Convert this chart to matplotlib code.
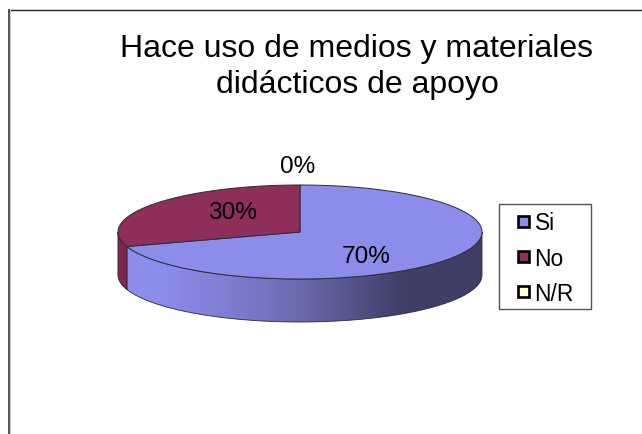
import numpy as np
import matplotlib
matplotlib.use("Agg")
import matplotlib.pyplot as plt
from matplotlib.colors import LinearSegmentedColormap
from matplotlib.patches import Polygon, Rectangle

plt.rcParams['font.family'] = ['Liberation Sans', 'DejaVu Sans']

title_lines = ["Hace uso de medios y materiales", "didácticos de apoyo"]
categories = ["Si", "No", "N/R"]
values = [70, 30, 0]
labels = ["70%", "30%", "0%"]
colors = ["#8C8CEB", "#8E2E5A", "#FFFFCC"]

# geometria del pastel en pixeles
cx, cy = 300, 232
rx, ry = 182, 47
depth = 43


def rim(t):
    return cx + rx * np.sin(t), cy - ry * np.cos(t)


fig = plt.figure(figsize=(6.42, 4.34), dpi=100)
ax = fig.add_axes([0, 0, 1, 1])

# marco: solo arriba e izquierda
ax.plot([8.5, 642], [9.5, 9.5], color="#222222", lw=1.0)
ax.plot([8.5, 8.5], [9.5, 434], color="#333333", lw=1.2)
ax.plot([10, 10], [10, 434], color="#cccccc", lw=0.8)

for line, ty in zip(title_lines, [57, 93]):
    ax.text(357, ty, line, ha="center", va="baseline", fontsize=23, color="black")

# angulos de cada sector (horario desde arriba)
edges = np.cumsum([0] + values) / sum(values) * 2 * np.pi

# lateral azul con degradado
t = np.linspace(np.pi / 2, edges[1], 200)
x, y = rim(t)
side_pts = np.r_[np.c_[x, y], np.c_[x[::-1], y[::-1] + depth]]
side_poly = Polygon(side_pts, closed=True, fc="none", ec="#2a2a40", lw=0.6, zorder=3)
ax.add_patch(side_poly)
cmap = LinearSegmentedColormap.from_list(
    "lado", [(0, "#3E3E66"), (0.22, "#3F3F68"), (0.5, "#6A6AAE"),
             (0.72, "#8080D6"), (0.88, "#8C8CEB"), (1, "#8C8CEB")])
im = ax.imshow(np.linspace(0, 1, 256)[None, :], extent=[482, 118, 322, 232],
               cmap=cmap, aspect="auto", zorder=2)
im.set_clip_path(Polygon(side_pts, closed=True, transform=ax.transData))

# lateral rojo
t = np.linspace(edges[1], 3 * np.pi / 2, 40)
x, y = rim(t)
ax.add_patch(Polygon(np.r_[np.c_[x, y], np.c_[x[::-1], y[::-1] + depth]], closed=True,
                     fc="#7E2850", ec="#3a1428", lw=0.6, zorder=3))

# caras superiores
for i in range(len(values)):
    if values[i] == 0:
        continue
    t = np.linspace(edges[i], edges[i + 1], 200)
    x, y = rim(t)
    pts = np.r_[[[cx, cy]], np.c_[x, y]]
    ax.add_patch(Polygon(pts, closed=True, fc=colors[i], ec="#2b2b3a", lw=0.7, zorder=4))

# etiquetas
label_pos = [(366, 257), (232, 213), (298, 167)]
for lab, (lx, ly) in zip(labels, label_pos):
    ax.text(lx, ly, lab, ha="center", va="center", fontsize=17.6, color="black", zorder=5)

# leyenda
ax.add_patch(Rectangle((499, 204), 92, 105, fc="white", ec="#555555", lw=1.0, zorder=5))
legend_y = [221, 256.5, 291.5]
for cat, col, ly in zip(categories, colors, legend_y):
    ax.add_patch(Rectangle((517.5, ly - 5.5), 11, 11, fc=col, ec="black", lw=1.9, zorder=6))
    ax.text(534.5, ly + 3, cat, ha="left", va="center", fontsize=16.4, color="black", zorder=6)

ax.set_xlim(0, 642)
ax.set_ylim(434, 0)
ax.axis("off")

fig.savefig("out.png", dpi=100)
plt.close("all")
